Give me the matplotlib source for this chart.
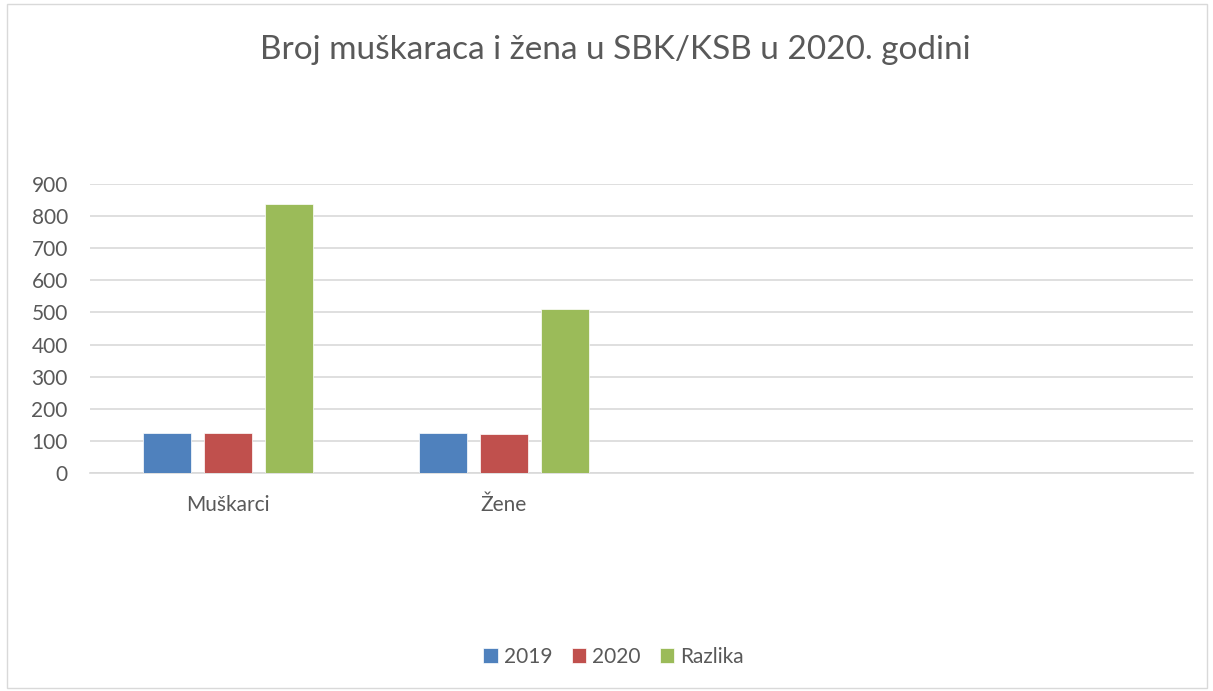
import matplotlib.pyplot as plt
from matplotlib.patches import Rectangle
import numpy as np

# podaci
kategorije = ["Muškarci", "Žene", "", ""]
god_2019 = [126, 124, np.nan, np.nan]
god_2020 = [126, 122, np.nan, np.nan]
razlika = [838, 511, np.nan, np.nan]
serije = ["2019", "2020", "Razlika"]
boje = ["#4f81bd", "#c0504d", "#9bbb59"]

plt.rcParams['font.family'] = ['Lato', 'DejaVu Sans']
siva = "#595959"

fig = plt.figure(figsize=(12.13, 6.91), dpi=100)
fig.patches.append(Rectangle((0.006, 0.004), 0.989, 0.99, transform=fig.transFigure,
                             fill=False, edgecolor="#d9d9d9", linewidth=1))

ax = fig.add_axes([90/1213, 1 - 473/691, (1193 - 90)/1213, (473 - 184)/691])

x = np.arange(len(kategorije))
sirina = 0.174
razmak = 0.221
for i, (vrijednosti, ime, boja) in enumerate(zip([god_2019, god_2020, razlika], serije, boje)):
    ax.bar(x + (i - 1) * razmak, vrijednosti, sirina, color=boja, label=ime,
           edgecolor="white", linewidth=0.5, zorder=3)

ax.set_xlim(-0.5, len(kategorije) - 0.5)
ax.set_ylim(0, 900)
ax.set_yticks(np.arange(0, 901, 100))
ax.yaxis.grid(True, color="#d9d9d9", linewidth=1.2, zorder=0)
ax.set_xticks(x)
ax.set_xticklabels(kategorije)
ax.tick_params(axis="both", length=0, labelsize=15, colors=siva)
ax.tick_params(axis="y", pad=16)
ax.tick_params(axis="x", pad=16)
for s in ["top", "right", "left"]:
    ax.spines[s].set_visible(False)
ax.spines["bottom"].set_color("#d9d9d9")
ax.spines["bottom"].set_linewidth(1.2)

fig.text(0.507, 1 - 50/691, "Broj muškaraca i žena u SBK/KSB u 2020. godini",
         ha="center", va="center", fontsize=24, color=siva)

fig.legend(loc="center", bbox_to_anchor=(0.506, 1 - 657/691), ncol=3, frameon=False,
           fontsize=15, handlelength=0.7, handleheight=0.7, handletextpad=0.3,
           columnspacing=0.9, labelcolor=siva)

fig.savefig("out.png", dpi=100)
